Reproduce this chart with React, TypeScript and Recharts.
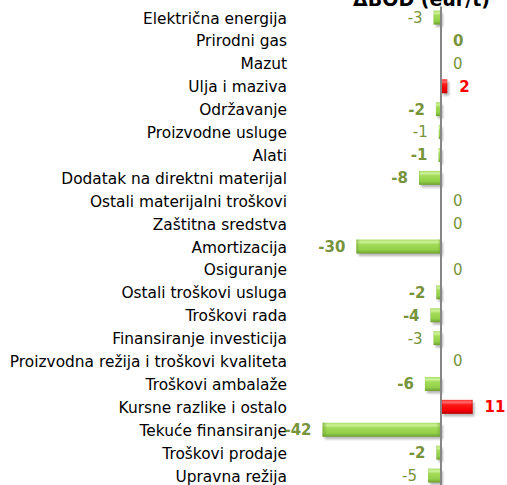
import React from "react";
import { BarChart, Bar, XAxis, YAxis, Cell, LabelList, ReferenceLine } from "recharts";

const categories = [
  "Električna energija",
  "Prirodni gas ",
  "Mazut",
  "Ulja i maziva",
  "Održavanje",
  "Proizvodne usluge",
  "Alati",
  "Dodatak na direktni materijal",
  "Ostali materijalni troškovi",
  "Zaštitna sredstva",
  "Amortizacija",
  "Osiguranje",
  "Ostali troškovi usluga",
  "Troškovi rada",
  "Finansiranje investicija",
  "Proizvodna režija i troškovi kvaliteta",
  "Troškovi ambalaže",
  "Kursne razlike i ostalo",
  "Tekuće finansiranje",
  "Troškovi prodaje",
  "Upravna režija",
];

const deltaValues = [
  -2.6, 0, 0, 2.2, -1.8, -0.8, -0.9, -7.8, 0, 0, -30, 0, -1.6, -3.7, -2.6, 0, -5.7, 11.2, -42, -1.6, -4.6,
];

// categories whose data label is shown in bold
const boldLabels = [
  "Prirodni gas ",
  "Ulja i maziva",
  "Održavanje",
  "Alati",
  "Dodatak na direktni materijal",
  "Amortizacija",
  "Ostali troškovi usluga",
  "Troškovi rada",
  "Troškovi ambalaže",
  "Kursne razlike i ostalo",
  "Tekuće finansiranje",
  "Troškovi prodaje",
];

const chartTitle = "ΔBOD (eur/t)";

const data = categories.map((name, idx) => ({ name, value: deltaValues[idx], idx }));

const FONT = "'DejaVu Sans', Verdana, sans-serif";
const GREEN_TEXT = "#77933C";
const RED_TEXT = "#FF0000";

const BarShape = (props: any) => {
  const { x, y, width, height, value } = props;
  if (!width || Math.abs(width) < 0.01) return null;
  const left = Math.min(x, x + width);
  const w = Math.abs(width);
  const pos = value > 0;
  const grad = pos ? "url(#gRed)" : "url(#gGreen)";
  const ends = pos ? "url(#gRedEnds)" : "url(#gGreenEnds)";
  return (
    <g>
      <rect x={left + 2} y={y + 2.5} width={w} height={height} fill="#000" opacity={0.28} filter="url(#blur)" />
      <rect x={left} y={y} width={w} height={height} fill={grad} />
      {w > 4 && <rect x={left} y={y} width={w} height={height} fill={ends} />}
    </g>
  );
};

const renderLabel = (props: any) => {
  const { x, y, width, height, value } = props;
  const d = data[value as number];
  if (!d) return null;
  const v = d.value;
  const left = Math.min(x, x + width);
  const right = Math.max(x, x + width);
  const cy = y + height / 2;
  const txt = String(Math.round(v));
  const bold = boldLabels.includes(d.name);
  const color = v > 0 ? RED_TEXT : GREEN_TEXT;
  if (v < 0) {
    return (
      <text x={left - 11} y={cy} dy="0.36em" textAnchor="end" fontFamily={FONT} fontSize={15} fontWeight={bold ? "bold" : "normal"} fill={color}>
        {txt}
      </text>
    );
  }
  return (
    <text x={right + 12} y={cy} dy="0.36em" textAnchor="start" fontFamily={FONT} fontSize={15} fontWeight={bold ? "bold" : "normal"} fill={color}>
      {txt}
    </text>
  );
};

const CatTick = (props: any) => {
  const { y, payload } = props;
  return (
    <text x={287} y={y} dy="0.36em" textAnchor="end" fontFamily={FONT} fontSize={15.4} fill="#000">
      {payload.value}
    </text>
  );
};

export default function App() {
  return (
    <div style={{ position: "absolute", left: 0, top: 0, width: 507, height: 485, overflow: "hidden", background: "#fff" }}>
      <BarChart
        width={507}
        height={490}
        data={data}
        layout="vertical"
        margin={{ top: 6.55, right: 9.6, bottom: 2.55, left: 0 }}
        barSize={14}
      >
        <defs>
          <linearGradient id="gGreen" x1="0" y1="0" x2="0" y2="1">
            <stop offset="0%" stopColor="#a9dc66" />
            <stop offset="18%" stopColor="#cdf29a" />
            <stop offset="35%" stopColor="#a3dc5a" />
            <stop offset="75%" stopColor="#92cf48" />
            <stop offset="100%" stopColor="#6f9f30" />
          </linearGradient>
          <linearGradient id="gGreenEnds" x1="0" y1="0" x2="1" y2="0">
            <stop offset="0%" stopColor="#6f9f30" stopOpacity={0.6} />
            <stop offset="4%" stopColor="#6f9f30" stopOpacity={0} />
            <stop offset="96%" stopColor="#6f9f30" stopOpacity={0} />
            <stop offset="100%" stopColor="#6f9f30" stopOpacity={0.6} />
          </linearGradient>
          <linearGradient id="gRed" x1="0" y1="0" x2="0" y2="1">
            <stop offset="0%" stopColor="#ff3030" />
            <stop offset="18%" stopColor="#ff6a6a" />
            <stop offset="35%" stopColor="#ff1a1a" />
            <stop offset="75%" stopColor="#f50000" />
            <stop offset="100%" stopColor="#b80000" />
          </linearGradient>
          <linearGradient id="gRedEnds" x1="0" y1="0" x2="1" y2="0">
            <stop offset="0%" stopColor="#b80000" stopOpacity={0.5} />
            <stop offset="6%" stopColor="#b80000" stopOpacity={0} />
            <stop offset="94%" stopColor="#b80000" stopOpacity={0} />
            <stop offset="100%" stopColor="#b80000" stopOpacity={0.5} />
          </linearGradient>
          <filter id="blur" x="-20%" y="-50%" width="140%" height="200%">
            <feGaussianBlur stdDeviation="1.2" />
          </filter>
        </defs>
        <XAxis type="number" domain={[-50, 20]} hide />
        <YAxis
          type="category"
          dataKey="name"
          width={300}
          axisLine={false}
          tickLine={false}
          tick={<CatTick />}
          interval={0}
        />
        <ReferenceLine x={0} stroke="#868686" strokeWidth={2} ifOverflow="extendDomain" />
        <Bar dataKey="value" isAnimationActive={false} shape={<BarShape />}>
          {data.map((d, i) => (
            <Cell key={i} fill={d.value > 0 ? "url(#gRed)" : "url(#gGreen)"} />
          ))}
          <LabelList dataKey="idx" content={renderLabel} />
        </Bar>
        <text x={421.5} y={6} textAnchor="middle" fontFamily={FONT} fontSize={19} fontWeight="bold" fill="#000">
          {chartTitle}
        </text>
      </BarChart>
    </div>
  );
}
